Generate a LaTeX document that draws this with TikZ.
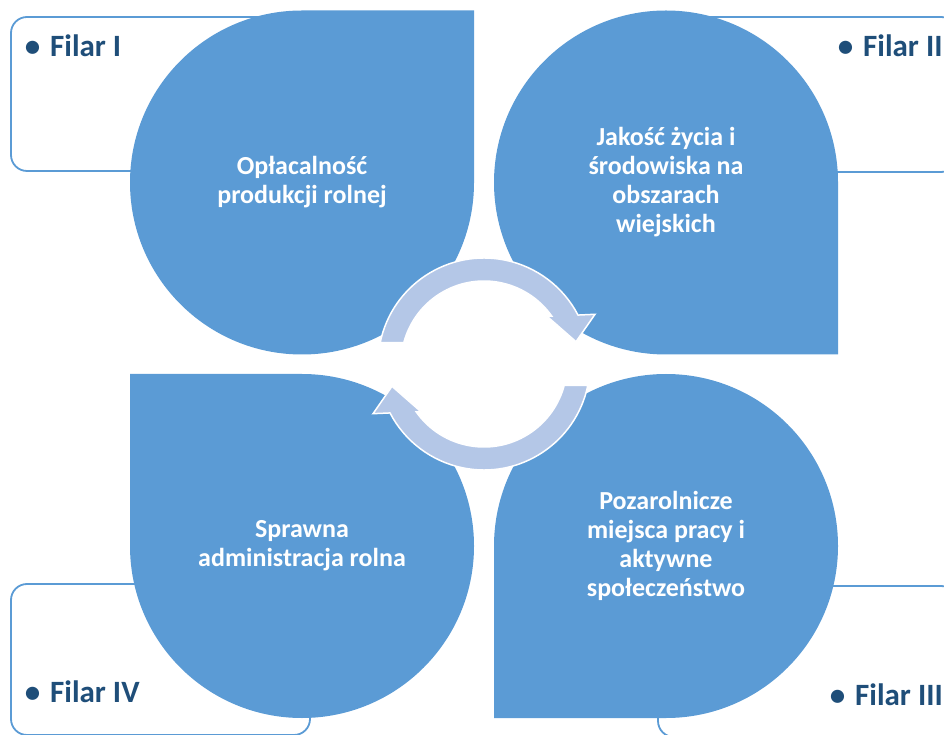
\documentclass[tikz,border=0pt]{standalone}
\usepackage{fontspec}
\setmainfont{Carlito}
\definecolor{shapeblue}{HTML}{5B9BD5}
\definecolor{arrowblue}{HTML}{B4C7E7}
\definecolor{labelblue}{HTML}{1F4E79}
\tikzset{
  pillarbox/.style={draw=shapeblue, line width=1.8pt, rounded corners=16pt, fill=white},
  drop/.style={fill=shapeblue},
  droptext/.style={text=white, font=\fontsize{26pt}{29pt}\selectfont\bfseries, align=center, inner sep=0pt},
  pillar/.style={text=labelblue, font=\fontsize{31pt}{36pt}\selectfont\bfseries, inner sep=0pt, anchor=base west},
  cyclearrow/.style={fill=arrowblue, draw=white, line width=1.5pt, line join=miter},
}
\newcommand{\pillarlabel}[1]{\llap{\textbullet\hspace{10pt}}#1}
\begin{document}
\begin{tikzpicture}[x=1pt,y=1pt]
\useasboundingbox (0,0) rectangle (944,734);
\clip (0,0) rectangle (944,734);
% background pillar boxes
\draw[pillarbox] (11,563) rectangle (310,717);
\draw[pillarbox] (658,562) rectangle (957,717);
\draw[pillarbox] (658,-3) rectangle (957,148);
\draw[pillarbox] (11,-1) rectangle (310,150);
\node[pillar] (p1) at (50,677) {\pillarlabel{Filar I}};
\node[pillar] (p2) at (863,677) {\pillarlabel{Filar II}};
\node[pillar] (p3) at (855,29) {\pillarlabel{Filar III}};
\node[pillar] (p4) at (50,31.3) {\pillarlabel{Filar IV}};
% teardrops
\fill[drop] (474,723.5) -- (302,723.5) arc[start angle=90,end angle=360,radius=172pt] -- cycle;
\fill[drop] (838,379.5) -- (838,551.5) arc[start angle=0,end angle=270,radius=172pt] -- cycle;
\fill[drop] (130,360) -- (130,188) arc[start angle=180,end angle=450,radius=172pt] -- cycle;
\fill[drop] (494,16) -- (666,16) arc[start angle=-90,end angle=180,radius=172pt] -- cycle;
\node[droptext] (n1) at (302,551.5) {Opłacalność\\produkcji rolnej};
\node[droptext] (n2) at (666,551.5) {Jakość życia i\\środowiska na\\obszarach\\wiejskich};
\node[droptext] (n3) at (666,188) {Pozarolnicze\\miejsca pracy i\\aktywne\\społeczeństwo};
\node[droptext] (n4) at (302,188) {Sprawna\\administracja rolna};
% cycle arrows
\coordinate (C) at (484,370);
\begin{scope}[shift={(484,370)}]
\path[cyclearrow] (168.3:106) arc[start angle=168.3,end angle=27.5,radius=106pt]
  -- (111,49.7) -- (92,22.3) -- (62.7,48) -- (35.3:83)
  arc[start angle=35.3,end angle=165.1,radius=83pt] -- cycle;
\end{scope}
\begin{scope}[shift={(484,370)},rotate=180]
\path[cyclearrow] (168.3:106) arc[start angle=168.3,end angle=27.5,radius=106pt]
  -- (111,49.7) -- (92,22.3) -- (62.7,48) -- (35.3:83)
  arc[start angle=35.3,end angle=165.1,radius=83pt] -- cycle;
\end{scope}
\end{tikzpicture}
\end{document}
